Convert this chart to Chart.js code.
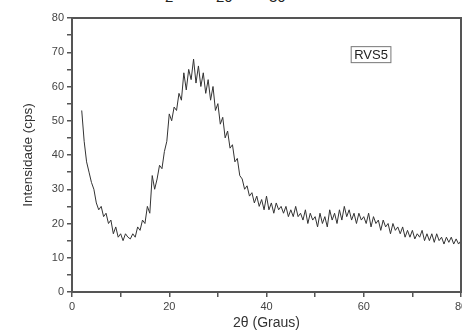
<!DOCTYPE html>
<html>
<head>
<meta charset="utf-8">
<script src="https://cdn.jsdelivr.net/npm/chart.js@4/dist/chart.umd.min.js"></script>
<style>
    body { margin: 0; width: 462px; height: 334px; overflow: hidden; background: #fff; position: relative; }
    #wrap { position: absolute; left: 0; top: 0; width: 476px; height: 334px; }
    .frag { position: absolute; top: -12px; font: 15px "Liberation Sans", Arial, sans-serif; color: #222; }
</style>
</head>
<body>
<span class="frag" style="left:165px">2</span>
<span class="frag" style="left:216px">20</span>
<span class="frag" style="left:269px">30</span>
<div id="wrap"><canvas id="xrd"></canvas></div>
<script>
// 2θ angles (graus) and intensity (cps)
const angles = [
    2.0, 2.5, 3.0, 3.5, 4.0, 4.5, 5.0, 5.5, 6.0, 6.5, 7.0, 7.5, 8.0, 8.5, 9.0, 9.5,
    10.0, 10.5, 11.0, 11.5, 12.0, 12.5, 13.0, 13.5, 14.0, 14.5, 15.0, 15.5, 16.0, 16.5, 17.0, 17.5,
    18.0, 18.5, 19.0, 19.5, 20.0, 20.5, 21.0, 21.5, 22.0, 22.5, 23.0, 23.5, 24.0, 24.5, 25.0, 25.5,
    26.0, 26.5, 27.0, 27.5, 28.0, 28.5, 29.0, 29.5, 30.0, 30.5, 31.0, 31.5, 32.0, 32.5, 33.0, 33.5,
    34.0, 34.5, 35.0, 35.5, 36.0, 36.5, 37.0, 37.5, 38.0, 38.5, 39.0, 39.5, 40.0, 40.5, 41.0, 41.5,
    42.0, 42.5, 43.0, 43.5, 44.0, 44.5, 45.0, 45.5, 46.0, 46.5, 47.0, 47.5, 48.0, 48.5, 49.0, 49.5,
    50.0, 50.5, 51.0, 51.5, 52.0, 52.5, 53.0, 53.5, 54.0, 54.5, 55.0, 55.5, 56.0, 56.5, 57.0, 57.5,
    58.0, 58.5, 59.0, 59.5, 60.0, 60.5, 61.0, 61.5, 62.0, 62.5, 63.0, 63.5, 64.0, 64.5, 65.0, 65.5,
    66.0, 66.5, 67.0, 67.5, 68.0, 68.5, 69.0, 69.5, 70.0, 70.5, 71.0, 71.5, 72.0, 72.5, 73.0, 73.5,
    74.0, 74.5, 75.0, 75.5, 76.0, 76.5, 77.0, 77.5, 78.0, 78.5, 79.0, 79.5, 80.0
];
const intensity = [
    53, 44, 38, 35, 32, 30, 26, 24, 25, 22, 23, 20, 21, 17, 19, 16,
    17, 15, 17, 16, 15.5, 17, 16, 19, 18, 21, 20, 25, 23, 34, 30, 33,
    37, 36, 41, 44, 52, 50, 54, 53, 58, 56, 64, 59, 65, 62, 68, 61,
    66, 60, 64, 58, 62, 56, 60, 53, 55, 49, 51, 45, 47, 42, 43, 38,
    39, 34, 33, 30, 31, 28, 29, 26, 28, 25, 27, 24, 28, 24, 26, 23,
    26, 24, 25, 23, 25, 22, 24, 22, 25, 22, 23, 21, 24, 20, 23, 21,
    22, 19, 23, 20, 22, 19, 24, 21, 23, 20, 24, 21, 25, 22, 24, 21,
    23, 20, 23, 21, 22, 20, 23, 19, 22, 20, 21, 18, 21, 19, 20, 17,
    20, 18, 19, 17, 19, 16, 18, 16, 18, 15.5, 17, 16, 18, 15, 17, 15,
    17, 14.5, 17, 15, 16, 14, 16, 14.5, 16, 14, 15.5, 14, 15
];
const sampleName = "RVS5";
const xTitle = "2\u03b8 (Graus)";
const yTitle = "Intensidade (cps)";

const axisColor = "#555";
const fontFamily = "'Liberation Sans', Arial, sans-serif";

//Draws the frame round the plot and the sample label box
const framePlugin = {
    id: "frame",
    afterDraw(chart) {
        const ctx = chart.ctx;
        const a = chart.chartArea;
        ctx.save();
        ctx.strokeStyle = axisColor;
        ctx.lineWidth = 2;
        ctx.strokeRect(a.left, a.top, a.right - a.left, a.bottom - a.top);

        //label box in data coords
        const x = chart.scales.x.getPixelForValue(61.5);
        const y = chart.scales.y.getPixelForValue(69.3);
        ctx.font = "13px " + fontFamily;
        const w = ctx.measureText(sampleName).width + 6;
        ctx.lineWidth = 1;
        ctx.strokeStyle = "#777";
        ctx.strokeRect(x - w / 2, y - 8, w, 16);
        ctx.fillStyle = "#222";
        ctx.textAlign = "center";
        ctx.textBaseline = "middle";
        ctx.fillText(sampleName, x, y + 0.5);
        ctx.restore();
    }
};

new Chart(document.getElementById("xrd"), {
    type: "line",
    data: {
        datasets: [{
            data: angles.map((a, i) => ({ x: a, y: intensity[i] })),
            borderColor: "#333",
            borderWidth: 1,
            pointRadius: 0,
            tension: 0
        }]
    },
    options: {
        responsive: true,
        maintainAspectRatio: false,
        animation: false,
        layout: { padding: { top: 18, right: 15, left: 0, bottom: 0 } },
        plugins: { legend: { display: false }, tooltip: { enabled: false } },
        scales: {
            x: {
                type: "linear",
                min: 0,
                max: 80,
                afterFit: (s) => { s.height = 42; },
                border: { display: false },
                grid: { drawOnChartArea: false, tickLength: 5, color: axisColor, lineWidth: 1.5 },
                ticks: {
                    stepSize: 10,
                    color: "#444",
                    font: { size: 11, family: fontFamily },
                    padding: 3,
                    maxRotation: 0,
                    callback: (v) => (v % 20 === 0 ? v : "")
                },
                title: {
                    display: true,
                    text: xTitle,
                    color: "#333",
                    font: { size: 14, family: fontFamily },
                    padding: { top: 0, bottom: 2 }
                }
            },
            y: {
                min: 0,
                max: 80,
                afterFit: (s) => { s.width = 72; },
                border: { display: false },
                grid: { drawOnChartArea: false, tickLength: 5, color: axisColor, lineWidth: 1.5 },
                ticks: {
                    stepSize: 5,
                    color: "#444",
                    font: { size: 11, family: fontFamily },
                    padding: 3,
                    callback: (v) => (v % 10 === 0 ? v : "")
                },
                title: {
                    display: true,
                    text: yTitle,
                    color: "#333",
                    font: { size: 13.5, family: fontFamily },
                    padding: { top: 20, bottom: 0 }
                }
            }
        }
    },
    plugins: [framePlugin]
});
</script>
</body>
</html>
